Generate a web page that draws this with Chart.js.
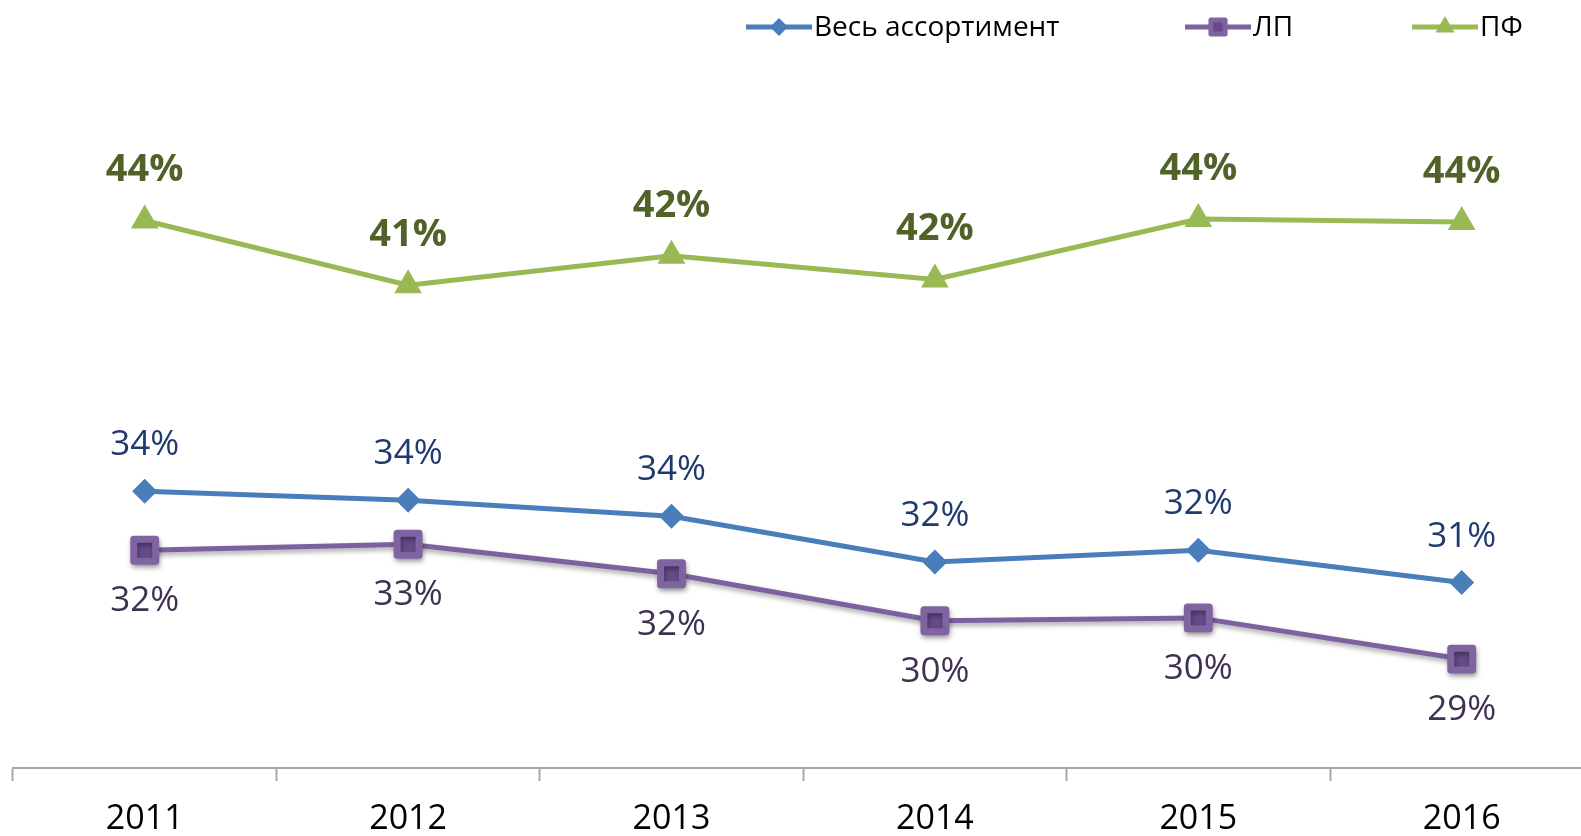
<!DOCTYPE html>
<html lang="ru">
<head>
<meta charset="utf-8">
<script src="https://cdn.jsdelivr.net/npm/chart.js@4.4.1/dist/chart.umd.min.js"></script>
<style>
  html, body { margin: 0; padding: 0; background: #fff; overflow: hidden; }
</style>
</head>
<body>
<canvas id="grafico" width="1600" height="857"></canvas>
<script>
const anos = ['2011', '2012', '2013', '2014', '2015', '2016'];
const vesAssortiment = [34.4, 34.1, 33.55, 32.0, 32.4, 31.3];
const lp = [32.4, 32.6, 31.6, 30.0, 30.1, 28.7];
const pf = [43.6, 41.4, 42.4, 41.6, 43.65, 43.55];

const FONTE = "'Open Sans', 'Noto Sans', sans-serif";

// rótulos de valor desenhados em cima de cada ponto (sem plugin externo)
const rotulos = {
  id: 'rotulos',
  afterDatasetsDraw(chart) {
    const ctx = chart.ctx;
    chart.data.datasets.forEach((ds, i) => {
      const meta = chart.getDatasetMeta(i);
      const r = ds.rotulo;
      ctx.save();
      ctx.font = r.font;
      ctx.fillStyle = r.cor;
      ctx.textAlign = 'center';
      ctx.textBaseline = 'middle';
      meta.data.forEach((pt, j) => {
        ctx.fillText(Math.round(ds.data[j]) + '%', pt.x, pt.y + r.dy);
      });
      ctx.restore();
    });
  }
};

// legenda no topo: linha curta com o marcador no meio, e o texto logo depois
const legenda = {
  id: 'legenda',
  afterDraw(chart) {
    const ctx = chart.ctx;
    const y = 27;
    const itens = [
      { x: 746, ds: 0, raio: 9 },
      { x: 1185, ds: 1, raio: 10 },
      { x: 1412, ds: 2, raio: 11 }
    ];
    ctx.save();
    itens.forEach(it => {
      const ds = chart.data.datasets[it.ds];
      ctx.strokeStyle = ds.borderColor;
      ctx.lineWidth = 5;
      ctx.beginPath();
      ctx.moveTo(it.x, y);
      ctx.lineTo(it.x + 66, y);
      ctx.stroke();
      ctx.fillStyle = ds.pointBackgroundColor;
      ctx.strokeStyle = ds.pointBorderColor;
      ctx.lineJoin = 'round';
      Chart.helpers.drawPoint(ctx, {
        pointStyle: ds.pointStyle,
        radius: it.raio,
        rotation: 0,
        borderWidth: ds.pointBorderWidth
      }, it.x + 33, y);
      ctx.fillStyle = '#000';
      ctx.font = '28px ' + FONTE;
      ctx.textAlign = 'left';
      ctx.textBaseline = 'middle';
      ctx.fillText(ds.label, it.x + 68, y + 1);
    });
    ctx.restore();
  }
};

// sombra leve só na série ЛП
const sombra = {
  id: 'sombra',
  beforeDatasetDraw(chart, args) {
    if (args.index !== 1) return;
    const ctx = chart.ctx;
    ctx.save();
    ctx.shadowColor = 'rgba(0,0,0,0.35)';
    ctx.shadowBlur = 5;
    ctx.shadowOffsetX = 1;
    ctx.shadowOffsetY = 3;
    ctx.lineJoin = 'round';
  },
  afterDatasetDraw(chart, args) {
    if (args.index !== 1) return;
    chart.ctx.restore();
  }
};

new Chart(document.getElementById('grafico'), {
  type: 'line',
  data: {
    labels: anos,
    datasets: [
      {
        label: 'Весь ассортимент',
        data: vesAssortiment,
        borderColor: '#4a7ebb',
        borderWidth: 5,
        pointStyle: 'rectRot',
        pointRadius: 12.5,
        pointBackgroundColor: '#4a7ebb',
        pointBorderColor: '#4a7ebb',
        pointBorderWidth: 0,
        rotulo: { font: '35px ' + FONTE, cor: '#1f3a6e', dy: -46 }
      },
      {
        label: 'ЛП',
        data: lp,
        borderColor: '#7d60a0',
        borderWidth: 5,
        pointStyle: 'rect',
        pointRadius: 15.5,
        pointBackgroundColor: '#664b8b',
        pointBorderColor: '#8064a2',
        pointBorderWidth: 7,
        rotulo: { font: '35px ' + FONTE, cor: '#3f3151', dy: 51 }
      },
      {
        label: 'ПФ',
        data: pf,
        borderColor: '#98b954',
        borderWidth: 5,
        pointStyle: 'triangle',
        pointRadius: 16,
        pointBackgroundColor: '#98b954',
        pointBorderColor: '#98b954',
        pointBorderWidth: 0,
        rotulo: { font: 'bold 38px ' + FONTE, cor: '#4f6228', dy: -50 }
      }
    ]
  },
  options: {
    responsive: false,
    animation: false,
    layout: { autoPadding: false, padding: { top: 91, left: 13, right: 6.6, bottom: 0 } },
    elements: { line: { tension: 0 } },
    plugins: {
      legend: { display: false },
      tooltip: { enabled: false }
    },
    scales: {
      x: {
        offset: true,
        border: { color: '#a6a6a6', width: 2 },
        grid: {
          offset: true,
          drawOnChartArea: false,
          tickLength: 13,
          tickWidth: 2,
          color: '#a6a6a6'
        },
        ticks: {
          color: '#000',
          padding: 21,
          font: { family: FONTE, size: 34, lineHeight: 1 }
        }
      },
      y: {
        display: false,
        min: 25,
        max: 48
      }
    }
  },
  plugins: [sombra, rotulos, legenda]
});
</script>
</body>
</html>
